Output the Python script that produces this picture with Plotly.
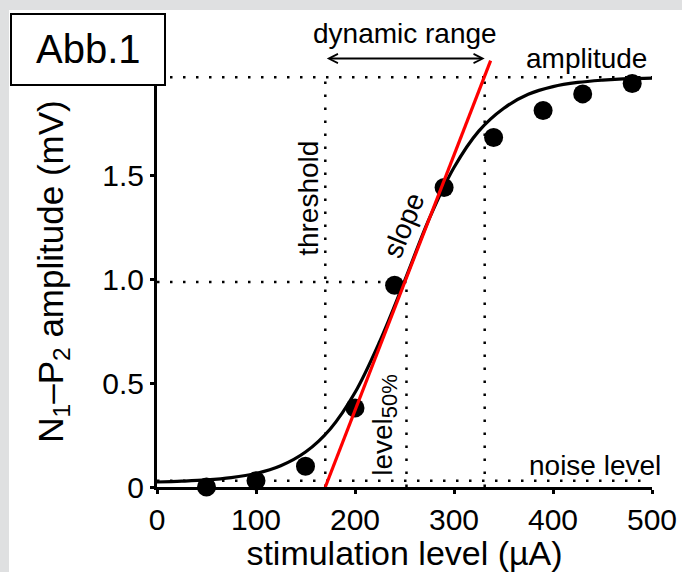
import plotly.graph_objects as go

# ---- data ----
stim_x = [50, 100, 150, 200, 240, 290, 340, 390, 430, 480]
amp_y = [0.0, 0.03, 0.10, 0.38, 0.97, 1.44, 1.68, 1.81, 1.89, 1.94]

fit_x = [0, 25, 50, 75, 100, 125, 150, 175, 200, 225, 250, 275, 300,
         325, 350, 375, 400, 425, 450, 475, 500]
fit_y = [0.024, 0.028, 0.034, 0.045, 0.065, 0.102, 0.168, 0.279, 0.454, 0.70,
         0.99, 1.29, 1.536, 1.711, 1.82, 1.888, 1.925, 1.945, 1.956, 1.963, 1.966]

slope_x = [170, 337]
slope_y = [0.0, 2.05]

threshold_x = 170
upper_x = 331
level50_x = 252
level50_y = 0.985
amplitude_y = 1.97
noise_y = 0.03
noise_end_x = 495
arrow_y = 2.06

x_ticks = [0, 100, 200, 300, 400, 500]
x_tick_text = ["0", "100", "200", "300", "400", "500"]
y_ticks = [0, 0.5, 1.0, 1.5]
y_tick_text = ["0", "0.5", "1.0", "1.5"]

FONT = "Liberation Sans, Arial, sans-serif"
DOT = "2.5px,10.5px"

fig = go.Figure()

def dotted(xs, ys):
    fig.add_trace(go.Scatter(x=xs, y=ys, mode="lines",
                             line=dict(color="black", width=2.5, dash=DOT),
                             hoverinfo="skip", showlegend=False))

# reference lines
dotted([0, 500], [amplitude_y, amplitude_y])
dotted([0, noise_end_x], [noise_y, noise_y])
dotted([threshold_x, threshold_x], [0, amplitude_y])
dotted([upper_x, upper_x], [0, amplitude_y])
dotted([0, level50_x], [level50_y, level50_y])
dotted([level50_x, level50_x], [0, level50_y])

# fitted curve
fig.add_trace(go.Scatter(x=fit_x, y=fit_y, mode="lines",
                         line=dict(color="black", width=3.2, shape="spline", smoothing=1.0),
                         showlegend=False))
# data points
fig.add_trace(go.Scatter(x=stim_x, y=amp_y, mode="markers",
                         marker=dict(color="black", size=19),
                         cliponaxis=False, showlegend=False))
# slope line
fig.add_trace(go.Scatter(x=slope_x, y=slope_y, mode="lines",
                         line=dict(color="#ff0000", width=3.2),
                         showlegend=False))

L, R, T, B = 157, 30, 56, 85
W, H = 682, 572
plot_h = H - T - B
y_top = plot_h / 208.0

def px_to_paper_x(px):
    return (px - L) / (W - L - R)

def px_to_paper_y(py):
    return (H - B - py) / plot_h

shapes = [
    dict(type="rect", xref="paper", yref="paper",
         x0=px_to_paper_x(9), x1=px_to_paper_x(700),
         y0=px_to_paper_y(600), y1=px_to_paper_y(10),
         fillcolor="white", line=dict(width=0), layer="below"),
    dict(type="rect", xref="paper", yref="paper",
         x0=px_to_paper_x(11), x1=px_to_paper_x(165),
         y0=px_to_paper_y(85), y1=px_to_paper_y(14),
         fillcolor="white", line=dict(color="black", width=2), layer="above"),
]

tf = dict(family=FONT, size=28, color="black")
annotations = [
    dict(x=px_to_paper_x(88), y=px_to_paper_y(49), xref="paper", yref="paper",
         xanchor="center", yanchor="middle",
         text="Abb.1", showarrow=False, font=dict(family=FONT, size=40, color="black")),
    dict(x=upper_x, y=arrow_y, ax=threshold_x, ay=arrow_y, xref="x", yref="y",
         axref="x", ayref="y", text="", showarrow=True, arrowhead=5, startarrowhead=5,
         arrowside="end+start", arrowsize=0.9, startarrowsize=0.9, arrowwidth=2,
         arrowcolor="black", standoff=0, startstandoff=0),
    dict(x=(threshold_x + upper_x) / 2, y=arrow_y, xref="x", yref="y",
         text="dynamic range", showarrow=False, yanchor="bottom", yshift=8, font=tf),
    dict(x=434, y=amplitude_y, xref="x", yref="y", text="amplitude",
         showarrow=False, yanchor="bottom", yshift=1, font=tf),
    dict(x=442, y=noise_y, xref="x", yref="y", text="noise level",
         showarrow=False, yanchor="bottom", yshift=-2, font=tf),
    dict(x=153.5, y=1.39, xref="x", yref="y", text="threshold",
         showarrow=False, textangle=-90, font=tf),
    dict(x=249.5, y=1.255, xref="x", yref="y", text="slope",
         showarrow=False, textangle=-68, font=tf),
    dict(x=229.5, y=0.30, xref="x", yref="y",
         text="level<sub><span style='font-size:22px'>50%</span></sub>",
         showarrow=False, textangle=-90, font=tf),
]

fig.update_layout(
    width=W, height=H,
    margin=dict(l=L, r=R, t=T, b=B, pad=0),
    paper_bgcolor="#dfe0e1", plot_bgcolor="white",
    template="none",
    font=dict(family=FONT, color="black"),
    shapes=shapes, annotations=annotations,
    xaxis=dict(range=[0, 500], tickvals=x_ticks, ticktext=x_tick_text,
               showgrid=False, zeroline=False, showline=True, linecolor="black",
               linewidth=3, ticks="outside", ticklen=4, tickwidth=3, tickcolor="black",
               tickfont=dict(family=FONT, size=30, color="black"),
               title=dict(text="stimulation level (\u00b5A)",
                          font=dict(family=FONT, size=34, color="black"), standoff=8)),
    yaxis=dict(range=[0, y_top], tickvals=y_ticks, ticktext=y_tick_text,
               showgrid=False, zeroline=False, showline=True, linecolor="black",
               linewidth=3, ticks="outside", ticklen=4, tickwidth=3, tickcolor="black",
               tickfont=dict(family=FONT, size=30, color="black"),
               title=dict(text="N<sub>1</sub>\u2013P<sub>2</sub> amplitude (mV)",
                          font=dict(family=FONT, size=35, color="black"), standoff=29)),
)

fig.write_html("out.html",
               config={"displayModeBar": False},
               post_script="document.body.style.margin='0px';document.body.style.overflow='hidden';")
